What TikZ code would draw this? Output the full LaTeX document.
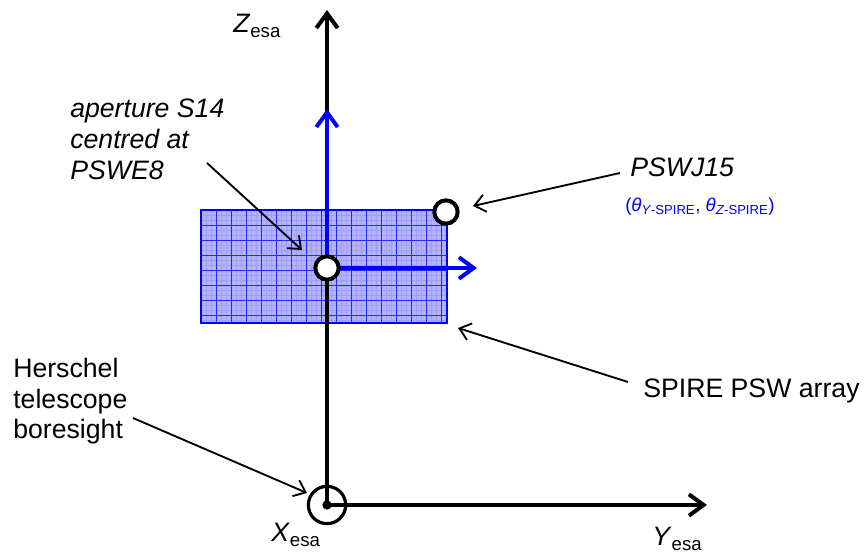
\documentclass[tikz,border=0pt]{standalone}
\usepackage{fontspec}
\setmainfont{Liberation Sans}
\usetikzlibrary{arrows.meta}
\tikzset{
  axis/.style  = {line width=3pt, -{Straight Barb[length=11pt, width=16pt]}},
  baxis/.style = {axis, draw=blue},
  hole/.style  = {draw, circle, fill=white, line width=3pt, minimum size=17.5pt, inner sep=0pt},
  lead/.style  = {line width=1.4pt, -{Straight Barb[length=8pt, width=13pt]}},
  lbl/.style   = {font=\fontsize{20}{23}\selectfont, inner sep=0pt},
  gmajor/.style= {draw=blue!85, line width=0.45pt},
  gminor/.style= {draw=blue!38, line width=0.1pt},
}
\begin{document}
\begin{tikzpicture}[x=0.75pt, y=-0.75pt]
  \useasboundingbox (0,0) rectangle (868,555);
  % detector array
  \fill[blue!30] (201,210) rectangle (447,323);
  \foreach \gx in {206,211,...,446}{
    \draw[gminor] (\gx,210) -- (\gx,323);
  }
  \foreach \gy in {215,220,...,322}{
    \draw[gminor] (201,\gy) -- (447,\gy);
  }
  \foreach \gx in {216,231,...,446}{
    \draw[gmajor] (\gx,210) -- (\gx,323);
  }
  \foreach \gy in {225,240,...,322}{
    \draw[gmajor] (201,\gy) -- (447,\gy);
  }
  \draw[blue, line width=1.5pt] (201,210) rectangle (447,323);
  % esa axes
  \coordinate (O) at (327,505);
  \coordinate (ztip) at (327,10);
  \coordinate (ytip) at (707,505);
  \draw[axis] (O) -- (ztip);
  \draw[axis] (O) -- (ytip);
  % spire axes
  \coordinate (C) at (327,268);
  \coordinate (zsp) at (327,109);
  \coordinate (ysp) at (477,268);
  \draw[baxis] (C) -- (zsp);
  \draw[baxis] (C) -- (ysp);
  % circles
  \node[hole] (pswe8) at (C) {};
  \node[hole] (pswj15) at (446,212) {};
  \node[draw, circle, line width=2.4pt, minimum size=28pt, inner sep=0pt] (bore) at (O) {};
  \node[circle, fill, minimum size=7pt, inner sep=0pt] (xdot) at (O) {};
  % axis labels
  \node[lbl, anchor=base west] (zlab) at (233,33) {\textit{Z}\textsubscript{esa}};
  \node[lbl, anchor=base west] (xlab) at (271,542) {\textit{X}\textsubscript{esa}};
  \node[lbl, anchor=base west] (ylab) at (652,546) {\textit{Y}\textsubscript{esa}};
  % annotations
  \node[lbl, anchor=north west, align=left, font=\fontsize{20}{23}\selectfont\itshape]
    (aplab) at (70,99) {aperture S14\\centred at\\PSWE8};
  \node[lbl, anchor=north west, align=left] (hlab) at (13,358)
    {Herschel\\telescope\\boresight};
  \node[lbl, anchor=base west, font=\fontsize{20}{23}\selectfont\itshape] (jlab) at (630,177) {PSWJ15};
  \node[lbl, anchor=base west, text=blue, font=\fontsize{14}{17}\selectfont] (thlab) at (625,212)
    {(\textit{θ}\textsubscript{\textit{Y}-SPIRE}, \textit{θ}\textsubscript{\textit{Z}-SPIRE})};
  \node[lbl, anchor=base west] (slab) at (643,398) {SPIRE PSW array};
  % leaders
  \coordinate (aptail) at (207,163);
  \coordinate (aptip) at (302,250);
  \coordinate (htail) at (133,418);
  \coordinate (htip) at (307,493);
  \coordinate (jtail) at (620,173);
  \coordinate (jtip) at (473,206);
  \coordinate (stail) at (628,382);
  \coordinate (stip) at (458,328);
  \draw[lead] (aptail) -- (aptip);
  \draw[lead] (htail) -- (htip);
  \draw[lead] (jtail) -- (jtip);
  \draw[lead] (stail) -- (stip);
\end{tikzpicture}
\end{document}
